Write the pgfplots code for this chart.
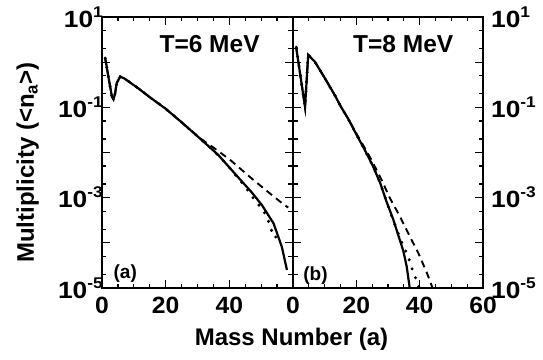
\documentclass[border=0pt]{standalone}
\usepackage{fontspec}
\setmainfont{Liberation Sans}
\usepackage{graphicx}
\usepackage{pgfplots}
\pgfplotsset{compat=1.18}
\newcommand{\sx}[1]{\scalebox{1.12}[1]{#1}}
\newcommand{\sxx}[1]{\scalebox{1.05}[1]{#1}}
\newcommand{\ex}[1]{\sx{10\raisebox{10pt}{\fontsize{15.5}{15.5}\selectfont #1}}}
\pgfplotsset{
  mypanel/.style={
    scale only axis, height=271pt,
    ymin=1e-5, ymax=10, xmin=0, xmax=60,
    xtick={0,20,40,60}, minor x tick num=3,
    ytick={1e-5,1e-4,1e-3,1e-2,1e-1,1,10},
    minor ytick={2e-5,5e-5,2e-4,5e-4,2e-3,5e-3,2e-2,5e-2,0.2,0.5,2,5},
    tick align=inside,
    major tick length=8pt, minor tick length=4.5pt,
    line width=1.7pt,
    tick style={line width=1.3pt, black},
    tick label style={font=\fontsize{23.5}{23.5}\selectfont\bfseries},
    xticklabel style={yshift=-5pt},
    clip=true,
  },
  solidc/.style={black, line width=2.2pt},
  dashc/.style={black, line width=1.9pt, dash pattern=on 7pt off 5pt},
  dotc/.style={black, line width=3.3pt, line cap=round, dash pattern=on 0pt off 9.5pt},
}
\begin{document}
\begin{tikzpicture}[font=\bfseries]
\path[use as bounding box] (-102pt,-71pt) rectangle (441pt,288pt);
\begin{axis}[ymode=log, mypanel, name=left, at={(0pt,0pt)}, anchor=south west, width=191pt,
  xticklabels={\sxx{0},\sxx{20},\sxx{40},{}},
  yticklabel pos=left,
  yticklabel style={xshift=5pt},
  yticklabels={\ex{-5},{},\ex{-3},{},\ex{-1},{},\ex{1}},
]
% solid
\addplot[solidc] coordinates {
(1,1.23) (2.2,0.4) (3.1,0.174) (3.6,0.151) (4.1,0.2) (4.6,0.34) (5.7,0.479) (7,0.437) (11.4,0.263) (15.5,0.158) (19.8,0.0955)
(24.5,0.0501) (30.8,0.0204) (36.6,0.00871) (42.4,0.00302) (47,0.00132)
(50.2,6.92e-4) (53.9,2.69e-4) (56.5,8.13e-5) (58.1,2.51e-5)
};
% dashed
\addplot[dashc] coordinates {
(1,1.23) (2.2,0.4) (3.1,0.174) (3.6,0.151) (4.1,0.2) (4.6,0.34) (5.7,0.479) (7,0.437) (11.4,0.263) (15.5,0.158) (19.8,0.0955)
(24.5,0.0501) (28,0.0305) (31.5,0.01905) (35,0.01288) (40.3,0.00682) (47.6,0.002455)
(53,0.001202) (56,8.13e-4) (58.5,6.03e-4)
};
% dotted
\addplot[dotc] coordinates {
(1,1.23) (2.2,0.4) (3.1,0.174) (3.6,0.151) (4.1,0.2) (4.6,0.34) (5.7,0.479) (7,0.437) (11.4,0.263) (15.5,0.158) (19.8,0.0955)
(24.5,0.0501) (27.7,0.0316) (33.4,0.01413) (36.9,0.00813) (39.7,0.0049) (42.5,0.00288)
(45.2,0.00166) (47.7,9.33e-4) (50.7,5.25e-4) (52.6,2.69e-4) (53.9,1.32e-4) (57.2,1.445e-4)
};
\node[font=\fontsize{24.5}{24.5}\selectfont\bfseries] at (axis cs:33.8,2.5) {T=6 MeV};
\node[font=\fontsize{19}{19}\selectfont\bfseries] at (axis cs:7.3,2.1e-5) {(a)};
\end{axis}
\begin{axis}[ymode=log, mypanel, name=right, at={(191pt,0pt)}, anchor=south west, width=190pt,
  xticklabels={\sxx{0},\sxx{20},\sxx{40},\sxx{60}},
  yticklabel pos=right,
  yticklabel style={xshift=4pt},
  yticklabels={\ex{-5},{},\ex{-3},{},\ex{-1},{},\ex{1}},
]
\addplot[solidc] coordinates {
(1,2.14) (3.8,0.102) (4.8,1.445) (6.9,1.023) (10.1,0.437) (13.2,0.186) (15,0.107)
(17.4,0.0562) (20.1,0.0245) (22.8,0.01096) (25.3,0.0049) (27.5,0.00214) (29.6,7.94e-4)
(31.6,3.39e-4) (33.2,1.51e-4) (34.8,6.76e-5) (35.9,3.02e-5) (36.8,1.07e-5) (37.2,6.3e-6)
};
\addplot[dashc] coordinates {
(1,2.14) (3.8,0.102) (4.8,1.445) (6.9,1.023) (10.1,0.437) (13.2,0.186) (15,0.107)
(17.4,0.0562) (20.1,0.0257) (22.5,0.01318) (24.8,0.00682) (28,0.00245) (30.6,9.77e-4)
(33.8,3.8e-4) (36.4,1.62e-4) (39.6,5.89e-5) (42.3,2.14e-5) (44.5,8.3e-6)
};
\addplot[dotc] coordinates {
(1,2.14) (3.8,0.102) (4.8,1.445) (6.9,1.023) (10.1,0.437) (13.2,0.186) (15,0.107)
(17.4,0.0562) (20.1,0.0245) (22.8,0.01096) (25.3,0.0049) (27.5,0.00214) (29.6,7.94e-4)
(31.4,3.47e-4) (32.9,1.86e-4) (34.6,9.33e-5) (36.4,4.9e-5) (37.8,2.4e-5) (39.3,1.32e-5) (40.2,7.9e-6)
};
\node[font=\fontsize{24.5}{24.5}\selectfont\bfseries] at (axis cs:34.8,2.5) {T=8 MeV};
\node[font=\fontsize{19}{19}\selectfont\bfseries] at (axis cs:7.1,1.86e-5) {(b)};
\end{axis}
\node[font=\fontsize{24}{24}\selectfont\bfseries, anchor=base] at (189.5pt,-57pt) {Mass Number (a)};
\node[font=\fontsize{24}{24}\selectfont\bfseries, rotate=90, anchor=base] at (-68pt,125.5pt) {Multiplicity (<n\textsubscript{a}>)};
\end{tikzpicture}
\end{document}
